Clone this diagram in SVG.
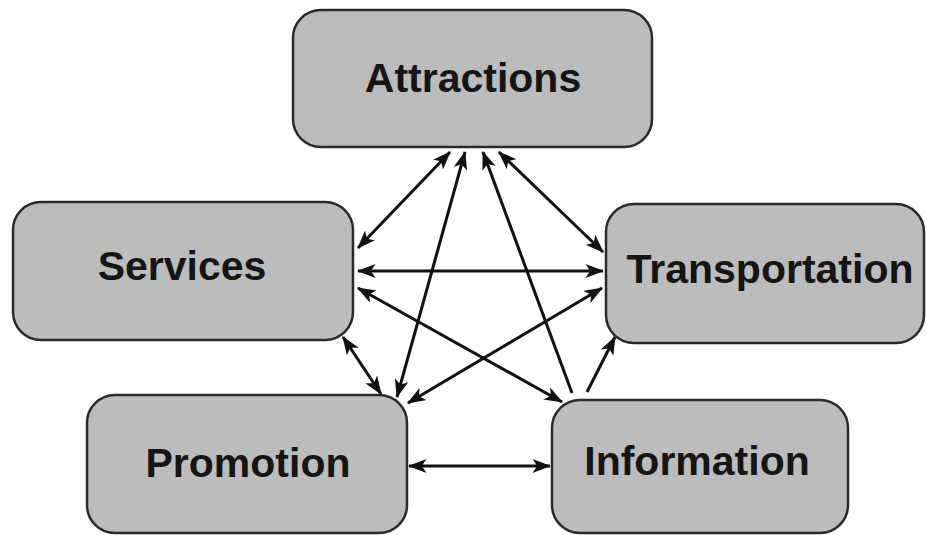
<svg xmlns="http://www.w3.org/2000/svg" width="927" height="535" viewBox="0 0 927 535">
  <style>
    .box { fill: #bcbcbc; stroke: #2a2a2a; stroke-width: 2.5; }
    .label { font-family: "Liberation Sans", Arial, Helvetica, sans-serif; font-weight: bold; font-size: 41px; fill: #151515; text-anchor: middle; }
    .link { stroke: #111; stroke-width: 3; fill: none; }
    .both { marker-start: url(#head); marker-end: url(#head); }
    .one { marker-end: url(#head); }
  </style>
  <defs>
    <marker id="head" viewBox="0 0 16 12" refX="15" refY="6" markerWidth="19" markerHeight="14" markerUnits="userSpaceOnUse" orient="auto-start-reverse">
      <path d="M0,0 L16,6 L0,12 L4,6 Z" fill="#111"/>
    </marker>
  </defs>
  <rect width="927" height="535" fill="#fff"/>

  <g id="connectors">
    <line class="link both" x1="450" y1="152" x2="358" y2="248"/>
    <line class="link both" x1="465" y1="152" x2="397" y2="397"/>
    <line class="link one" x1="572" y1="393" x2="483" y2="152"/>
    <line class="link both" x1="499" y1="152" x2="603" y2="252"/>
    <line class="link both" x1="358" y1="271" x2="603" y2="271"/>
    <line class="link both" x1="358" y1="288" x2="562" y2="402"/>
    <line class="link both" x1="408" y1="403" x2="602" y2="288"/>
    <line class="link both" x1="343" y1="337" x2="381" y2="394"/>
    <line class="link one" x1="587" y1="392" x2="615" y2="337"/>
    <line class="link both" x1="409" y1="466" x2="550" y2="466"/>
  </g>

  <g id="attractions">
    <rect class="box" x="293" y="10" width="359" height="137" rx="28"/>
    <text class="label" x="473" y="92">Attractions</text>
  </g>
  <g id="services">
    <rect class="box" x="13" y="202" width="340" height="138" rx="28"/>
    <text class="label" x="182" y="280">Services</text>
  </g>
  <g id="transportation">
    <rect class="box" x="606" y="204" width="318" height="139" rx="28"/>
    <text class="label" x="770" y="283">Transportation</text>
  </g>
  <g id="promotion">
    <rect class="box" x="87" y="395" width="320" height="138" rx="28"/>
    <text class="label" x="248" y="477">Promotion</text>
  </g>
  <g id="information">
    <rect class="box" x="552" y="400" width="296" height="133" rx="28"/>
    <text class="label" x="697" y="475">Information</text>
  </g>
</svg>
